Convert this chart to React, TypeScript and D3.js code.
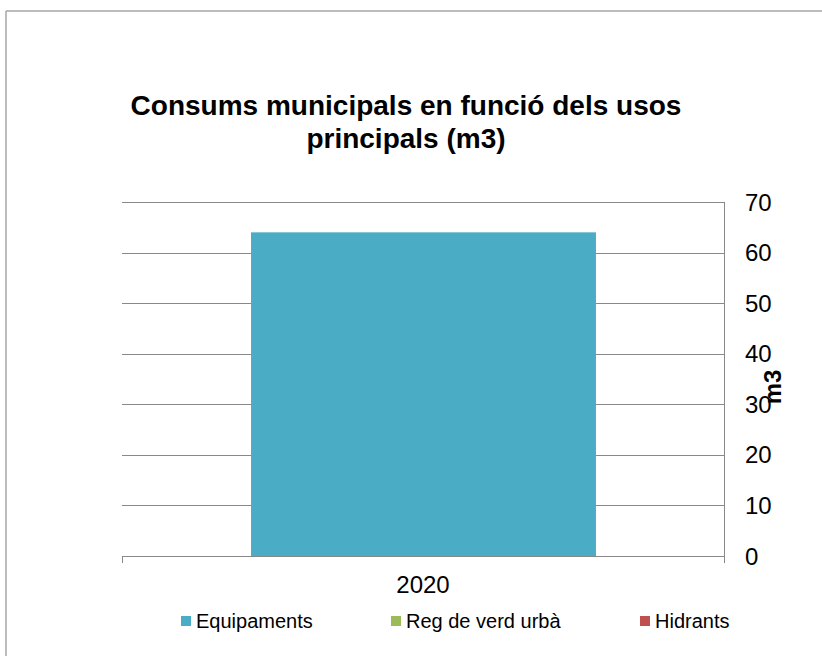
import React from "react";
import * as d3 from "d3";

const categories = ["2020"];
const seriesNames = ["Equipaments", "Reg de verd urbà", "Hidrants"];
const seriesColors = ["#4BACC6", "#9BBB59", "#C0504D"];
const equipaments = [64];
const regVerd = [0];
const hidrants = [0];
const yTicks = [0, 10, 20, 30, 40, 50, 60, 70];
const titleLines = ["Consums municipals en funció dels usos", "principals (m3)"];
const yTitle = "m3";

const W = 822;
const H = 656;
const plot = { left: 122, right: 724, top: 202, bottom: 556 };
const font = "'Liberation Sans', Arial, sans-serif";

export default function App() {
  const y = d3.scaleLinear().domain([0, 70]).range([plot.bottom, plot.top]);
  const x = d3.scaleBand().domain(categories).range([plot.left, plot.right]).paddingInner(0).paddingOuter(0);
  const series = [equipaments, regVerd, hidrants];
  const groupW = x.bandwidth() * 0.573;
  const barX = (c: string) => (x(c) as number) + (x.bandwidth() - groupW) / 2 + 0.5;

  const legendX = [181, 391, 640];
  return (
    <svg width={W} height={H} style={{ position: "absolute", left: 0, top: 0, background: "#fff", overflow: "hidden" }} fontFamily={font}>
      <line x1={6} x2={W} y1={11} y2={11} stroke="#a6a6a6" strokeWidth={1.5} />
      <line x1={6} x2={6} y1={11} y2={H} stroke="#a6a6a6" strokeWidth={1.5} />
      {titleLines.map((t, i) => (
        <text key={i} x={406} y={115 + i * 33} textAnchor="middle" fontSize={28} fontWeight="bold" fill="#000">
          {t}
        </text>
      ))}
      {yTicks.map((t) => (
        <line key={t} x1={plot.left} x2={plot.right} y1={Math.round(y(t)) + 0.5} y2={Math.round(y(t)) + 0.5} stroke="#898989" strokeWidth={1} />
      ))}
      {categories.map((c, i) =>
        series.map((s, k) =>
          s[i] > 0 ? (
            <rect key={c + k} x={barX(c)} y={y(s[i])} width={groupW} height={y(0) - y(s[i])} fill={seriesColors[k]} />
          ) : null
        )
      )}
      <line x1={plot.left} x2={plot.right} y1={plot.bottom + 0.5} y2={plot.bottom + 0.5} stroke="#898989" />
      <line x1={plot.right + 0.5} x2={plot.right + 0.5} y1={plot.top} y2={plot.bottom + 7} stroke="#898989" />
      <line x1={plot.left + 0.5} x2={plot.left + 0.5} y1={plot.bottom} y2={plot.bottom + 7} stroke="#898989" />
      {yTicks.map((t) => (
        <text key={t} x={745} y={y(t)} dy="0.36em" fontSize={24} fill="#000">
          {t}
        </text>
      ))}
      <text transform={`translate(773,387) rotate(-90)`} textAnchor="middle" dy="0.35em" fontSize={24} fontWeight="bold" fill="#000">
        {yTitle}
      </text>
      {categories.map((c) => (
        <text key={c} x={(x(c) as number) + x.bandwidth() / 2} y={593} textAnchor="middle" fontSize={24} fill="#000">
          {c}
        </text>
      ))}
      {seriesNames.map((n, i) => (
        <g key={n}>
          <rect x={legendX[i]} y={616} width={10} height={10} fill={seriesColors[i]} />
          <text x={legendX[i] + 15} y={628} fontSize={20} fill="#000">
            {n}
          </text>
        </g>
      ))}
    </svg>
  );
}
